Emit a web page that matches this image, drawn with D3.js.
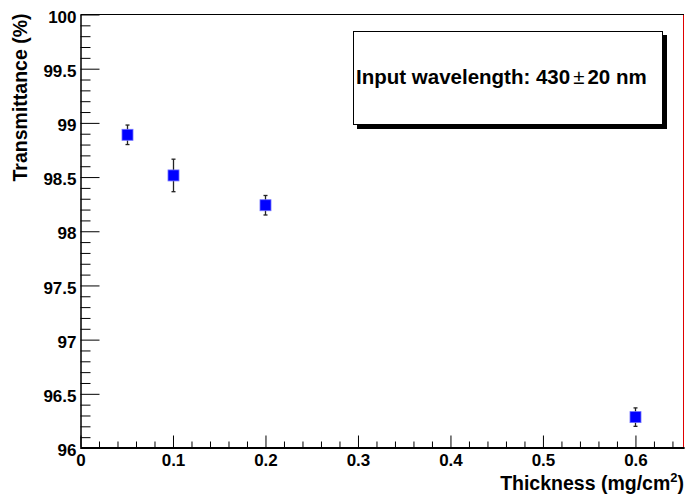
<!DOCTYPE html>
<html><head><meta charset="utf-8">
<script src="https://cdn.jsdelivr.net/npm/d3@7"></script>
<style>
html,body{margin:0;padding:0;background:#fff;}
svg{display:block;}
text{font-family:"Liberation Sans",Arial,Helvetica,sans-serif;font-weight:bold;}
</style></head>
<body>
<svg id="chart" width="685" height="498"></svg>
<script>
const thickness = [0.05, 0.1, 0.2, 0.6];
const transmittance = [98.89, 98.515, 98.24, 96.285];
const errors = [0.09, 0.15, 0.09, 0.085];
const xTicks = [0, 0.1, 0.2, 0.3, 0.4, 0.5, 0.6];
const xTickLabels = ["0", "0.1", "0.2", "0.3", "0.4", "0.5", "0.6"];
const yTicks = [96, 96.5, 97, 97.5, 98, 98.5, 99, 99.5, 100];
const yTickLabels = ["96", "96.5", "97", "97.5", "98", "98.5", "99", "99.5", "100"];
const xDomain = [0, 0.6525];
const yDomain = [96, 100];

const L = 80.5, R = 684, T = 14.5, B = 448;
const svg = d3.select("#chart");
const x = d3.scaleLinear().domain(xDomain).range([L, R]);
const y = d3.scaleLinear().domain(yDomain).range([B, T]);

// frame (red right/bottom, black top)
svg.append("line").attr("x1", R - 0.5).attr("x2", R - 0.5).attr("y1", T).attr("y2", B + 1)
  .attr("stroke", "#e00000").attr("stroke-width", 1);
svg.append("line").attr("x1", L).attr("x2", R).attr("y1", B + 0.5).attr("y2", B + 0.5)
  .attr("stroke", "#e06060").attr("stroke-width", 1);
svg.append("line").attr("x1", L).attr("x2", R).attr("y1", T).attr("y2", T)
  .attr("stroke", "#000").attr("stroke-width", 1);

// minor ticks
const xMinor = d3.range(0, 0.6501, 0.02).filter(v => Math.abs(v * 10 - Math.round(v * 10)) > 1e-6);
const yMinor = d3.range(96, 100.001, 0.1).filter(v => Math.abs(v * 2 - Math.round(v * 2)) > 1e-6);

const yMinG = svg.append("g").attr("transform", `translate(${L},0)`)
  .call(d3.axisLeft(y).tickValues(yMinor).tickSizeInner(-10).tickSizeOuter(0).tickFormat(""));
const xMinG = svg.append("g").attr("transform", `translate(0,${B - 0.5})`)
  .call(d3.axisBottom(x).tickValues(xMinor).tickSizeInner(-6).tickSizeOuter(0).tickFormat(""));

const yAx = svg.append("g").attr("transform", `translate(${L},0)`)
  .call(d3.axisLeft(y).tickValues(yTicks).tickSizeInner(-19).tickSizeOuter(0).tickPadding(4)
    .tickFormat((d, i) => yTickLabels[i]));
const xAx = svg.append("g").attr("transform", `translate(0,${B - 0.5})`)
  .call(d3.axisBottom(x).tickValues(xTicks).tickSizeInner(-12).tickSizeOuter(0).tickPadding(6)
    .tickFormat((d, i) => xTickLabels[i]));

[yMinG, xMinG, yAx, xAx].forEach(g => {
  g.selectAll("path,line").attr("stroke", "#000").attr("stroke-width", 1);
  g.selectAll("text").attr("fill", "#000").style("font-size", "17px")
    .style("font-family", "'Liberation Sans',Arial,sans-serif").style("font-weight", "bold");
});
xAx.select(".domain").attr("stroke-width", 2);
yAx.selectAll("text").attr("dy", "0.45em");

// axis titles
svg.append("text").attr("transform", `translate(27,${T - 1}) rotate(-90)`)
  .attr("text-anchor", "end").style("font-size", "19.5px").text("Transmittance (%)");
const xt = svg.append("text").attr("x", R).attr("y", 490).attr("text-anchor", "end")
  .style("font-size", "19.5px");
xt.append("tspan").text("Thickness (mg/cm");
xt.append("tspan").attr("dy", -8).style("font-size", "13px").text("2");
xt.append("tspan").attr("dy", 8).text(")");

// legend box
svg.append("rect").attr("x", 357).attr("y", 35).attr("width", 310).attr("height", 94).attr("fill", "#000");
svg.append("rect").attr("x", 353.5).attr("y", 31.5).attr("width", 309).attr("height", 93)
  .attr("fill", "#fff").attr("stroke", "#000").attr("stroke-width", 1);
const lt = svg.append("text").attr("x", 356).attr("y", 84).style("font-size", "20.5px");
lt.append("tspan").text("Input wavelength: 430");
lt.append("tspan").attr("dx", 3).style("font-weight", "normal").text("±");
lt.append("tspan").attr("dx", 3).text("20 nm");

// data
const pts = thickness.map((t, i) => ({t, v: transmittance[i], e: errors[i]}));
const g = svg.append("g");
g.selectAll(".err").data(pts).enter().append("line")
  .attr("x1", d => Math.round(x(d.t)) + 0.5).attr("x2", d => Math.round(x(d.t)) + 0.5)
  .attr("y1", d => y(d.v + d.e)).attr("y2", d => y(d.v - d.e))
  .attr("stroke", "#222").attr("stroke-width", 1.3);
g.selectAll(".capT").data(pts).enter().append("line")
  .attr("x1", d => Math.round(x(d.t)) - 1.5).attr("x2", d => Math.round(x(d.t)) + 2.5)
  .attr("y1", d => y(d.v + d.e)).attr("y2", d => y(d.v + d.e))
  .attr("stroke", "#222").attr("stroke-width", 1.3);
g.selectAll(".capB").data(pts).enter().append("line")
  .attr("x1", d => Math.round(x(d.t)) - 1.5).attr("x2", d => Math.round(x(d.t)) + 2.5)
  .attr("y1", d => y(d.v - d.e)).attr("y2", d => y(d.v - d.e))
  .attr("stroke", "#222").attr("stroke-width", 1.3);
g.selectAll(".pt").data(pts).enter().append("rect")
  .attr("x", d => Math.round(x(d.t)) - 5).attr("y", d => y(d.v) - 5.5)
  .attr("width", 11).attr("height", 11)
  .attr("fill", "#0000ff").attr("stroke", "#6f6fff").attr("stroke-width", 0.8);
</script>
</body></html>
